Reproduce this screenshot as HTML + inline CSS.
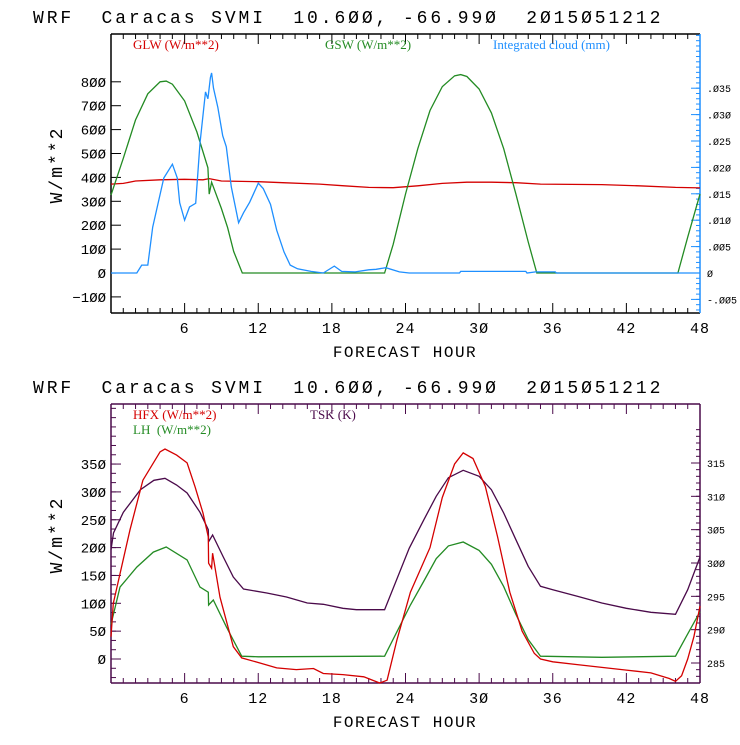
<!DOCTYPE html>
<html><head><meta charset="utf-8"><style>
body{margin:0;background:#fff;width:740px;height:740px;overflow:hidden}
svg text{font-family:"Liberation Mono",monospace;white-space:pre}
.leg{font-family:"Liberation Serif",serif;font-size:13px}
</style></head><body>
<svg id="c" width="740" height="740" xmlns="http://www.w3.org/2000/svg" xml:space="preserve"></svg>
<script>
// ---- data ----
const xTicks=[6,12,18,24,30,36,42,48];
const topLeftTicks=[-100,0,100,200,300,400,500,600,700,800];
const topRightTicks=[-0.005,0,0.005,0.010,0.015,0.020,0.025,0.030,0.035];
const topRightLabels=["-.005","0",".005",".010",".015",".020",".025",".030",".035"];
const botLeftTicks=[0,50,100,150,200,250,300,350];
const botRightTicks=[285,290,295,300,305,310,315];
const glwH=[0,1,2,4,6,7.5,8,9,12,14,17,19,21,23,25,27,29,31,33,35,40,43,46,48];
const glwV=[372,375,385,390,392,390,395,385,382,378,372,365,358,357,365,375,380,380,378,372,370,365,358,356];
const gswH=[0,1,2,3,4,4.5,5,6,7,7.9,8.0,8.2,9,9.5,10,10.7,22.3,23,24,25,26,27,28,28.5,29,30,31,32,33,34,34.7,46.2,47,48];
const gswV=[326,480,640,750,800,803,790,720,590,440,330,380,270,190,90,0,0,120,330,520,680,780,825,830,822,770,670,520,330,130,0,0,150,330];
const cldH=[0,2.1,2.5,3.0,3.4,4.3,5.0,5.4,5.6,6.0,6.4,6.9,7.25,7.7,7.9,8.1,8.2,8.35,8.7,9.1,9.4,9.8,10.4,10.8,11.3,12.0,12.4,13.0,13.5,14.1,14.6,15.2,16.3,17.3,18.2,18.8,19.9,21.0,21.6,22.4,23.5,24.3,28.4,28.5,33.8,33.9,34.6,36.2,36.3,48];
const cldV=[0,0,.0015,.0015,.0087,.018,.0206,.018,.0133,.010,.0125,.0132,.0246,.0343,.033,.037,.0379,.035,.0314,.026,.0239,.0163,.0095,.0114,.0134,.017,.016,.013,.0081,.004,.0015,.0008,.0003,0,.0013,.0003,.0002,.0006,.0007,.001,.0002,0,0,.0003,.0003,0,.0002,.0002,0,0];
const hfxH=[0,0.19,1.55,2.6,4.0,4.4,5.35,6.2,6.85,7.5,7.93,7.95,8.2,8.28,8.88,9.97,10.65,12.1,13.5,15.1,16.5,17.3,18.9,20.6,21.9,22.5,23.3,24.4,26,27,28,28.7,29.5,30.5,31.5,32.5,33.5,34.5,35,36,38,40,42,44,45.5,46,46.5,47,47.5,48];
const hfxV=[40,100,232,321,372,377,366,352,309,262,219,172,163,190,111,22,2,-7,-16,-19,-17,-26,-28,-32,-43,-38,34,120,200,290,350,370,360,310,220,120,50,10,0,-5,-10,-15,-20,-25,-35,-40,-30,0,40,95];
const lhH=[0,0.73,2.1,3.45,4.5,6.2,7.25,7.93,7.95,8.34,9.4,10.65,12,22.3,24.4,25.5,26.5,27.5,28.7,30,31,32,33,34,35,40,46,47,48];
const lhV=[62,129,165,192,201,178,129,120,97,106,58,5,4,5,97,140,180,203,210,195,170,130,80,35,5,3,5,45,85];
const tskH=[0,0.2,1.0,2.4,3.5,4.4,5.35,6.2,7.25,7.93,7.95,8.28,9.15,9.97,10.8,12.7,14.3,16,17.3,18.9,20,22.3,24.3,25.5,26.5,27.5,28.7,30,31,32,33,34,35,36,38,40,42,44,46,47,48];
const tskV=[302,304.5,307.6,311,312.4,312.7,311.7,310.5,307.6,305,303.2,304.2,300.9,297.9,296.1,295.5,294.9,294,293.8,293.2,293,293,302.2,306.5,310,312.8,313.9,313,311,307.5,303.5,299.5,296.5,296,295,294,293.2,292.6,292.3,296,300.9];

const NS="http://www.w3.org/2000/svg";
const svg=document.getElementById('c');
const X0=111,X1=700;
const xs=h=>X0+h*(X1-X0)/48;
function mk(tag,attrs,parent){const e=document.createElementNS(NS,tag);for(const k in attrs)e.setAttribute(k,attrs[k]);(parent||svg).appendChild(e);return e;}
function txt(s,x,y,size,color,anchor,cls){const t=mk('text',{x:x,y:y,'font-size':size,fill:color,'text-anchor':anchor||'start'});if(cls)t.setAttribute('class',cls);t.textContent=s;return t;}

function panel(off,axisCol,rightCol,yL,yR,lTicks,lLabels,lMinor,rTicks,rLabels,rMinor,lMin,lMax,rMin,rMax){
  const top=34+off,bot=313+off;
  const g=mk('g',{});
  
  
  const t=txt('WRF  Caracas SVMI  10.6ØØ, -66.99Ø  2Ø15Ø51212',33,23+off,18,'#000');
  t.setAttribute('letter-spacing','2.9');
  
  
  mk('line',{x1:X0,y1:top,x2:X1,y2:top,stroke:axisCol,'stroke-width':1.5},g);
  mk('line',{x1:X0,y1:bot,x2:X1,y2:bot,stroke:axisCol,'stroke-width':1.5},g);
  mk('line',{x1:X0,y1:top,x2:X0,y2:bot,stroke:axisCol,'stroke-width':1.5},g);
  mk('line',{x1:X1,y1:top,x2:X1,y2:bot,stroke:rightCol,'stroke-width':1.5},g);
  for(let h=1;h<48;h++){const x=xs(h),L=(h%6==0)?10:5;
    mk('line',{x1:x,y1:bot,x2:x,y2:bot-L,stroke:axisCol},g);
    mk('line',{x1:x,y1:top,x2:x,y2:top+L,stroke:axisCol},g);}
  xTicks.forEach(h=>{const l=txt(String(h).replace(/0/g,'Ø'),xs(h),bot+20,15,'#000','middle');
    l.setAttribute('letter-spacing','1');
    
    });
  const xt=txt('FORECAST HOUR',405,bot+44,16,'#000','middle');
  xt.setAttribute('letter-spacing','1.5');
  
  
  const yt=txt('W/m**2',0,0,18,'#000','middle');
  yt.setAttribute('letter-spacing','2');
  yt.setAttribute('transform','translate(62,'+(off+165)+') rotate(-90)');
  
  
  for(let v=lMin;v<=lMax+1e-9;v+=lMinor){const y=yL(v);if(y<top||y>bot)continue;
    mk('line',{x1:X0,y1:y,x2:X0+5,y2:y,stroke:axisCol},g);}
  lTicks.forEach((v,i)=>{const y=yL(v);mk('line',{x1:X0,y1:y,x2:X0+10,y2:y,stroke:axisCol},g);
    const l=txt(lLabels[i],106,y+5,14,'#000','end');
    
    });
  for(let v=rMin;v<=rMax+1e-9;v+=rMinor){const y=yR(v);if(y<top||y>bot)continue;
    mk('line',{x1:X1,y1:y,x2:X1-4,y2:y,stroke:rightCol},g);}
  rTicks.forEach((v,i)=>{const y=yR(v);mk('line',{x1:X1,y1:y,x2:X1-9,y2:y,stroke:rightCol},g);
    const l=txt(rLabels[i],707,y+4,10,'#000','start');
    
    });
}
function series(H,V,ysc,col,name){
  let d='';H.forEach((h,i)=>{d+=(i?'L':'M')+xs(h).toFixed(1)+' '+ysc(V[i]).toFixed(1);});
  const p=mk('path',{d:d,fill:'none',stroke:col,'stroke-width':1.3});
  
  
}
const yTL=v=>273-v*0.239;
const yTR=v=>273-v*5280;
panel(0,'#000','#1e8fff',yTL,yTR,topLeftTicks,topLeftTicks.map(v=>String(v).replace(/0/g,'Ø').replace('-','−')),50,
  topRightTicks,topRightLabels.map(s=>s.replace(/0/g,'Ø')),0.001,-0.2,1.0,-0.007,0.05);
series(glwH,glwV,yTL,'#d40000','glw-line');
series(gswH,gswV,yTL,'#238b23','gsw-line');
series(cldH,cldV,yTR,'#1e8fff','cloud-line');
const yBL=v=>659-v*0.557;
const yBR=v=>663-(v-285)*6.667;
panel(370,'#4a0a4a','#4a0a4a',yBL,yBR,botLeftTicks,botLeftTicks.map(v=>String(v).replace(/0/g,'Ø')),50/3,
  botRightTicks,botRightTicks.map(v=>String(v).replace(/0/g,'Ø')),1,-50,450,280,320);
series(tskH,tskV,yBR,'#4a0a4a','tsk-line');
series(lhH,lhV,yBL,'#238b23','lh-line');
series(hfxH,hfxV,yBL,'#d40000','hfx-line');
[['GLW (W/m**2)',133,49,'#d40000','legend-glw'],['GSW (W/m**2)',325,49,'#238b23','legend-gsw'],
 ['Integrated cloud (mm)',493,49,'#1e8fff','legend-cloud'],['HFX (W/m**2)',133,419,'#d40000','legend-hfx'],
 ['TSK (K)',310,419,'#4a0a4a','legend-tsk'],['LH  (W/m**2)',133,434,'#238b23','legend-lh']].forEach(a=>{
  const t=txt(a[0],a[1],a[2],13,a[3],'start','leg');
  
  });
</script>
</body></html>
